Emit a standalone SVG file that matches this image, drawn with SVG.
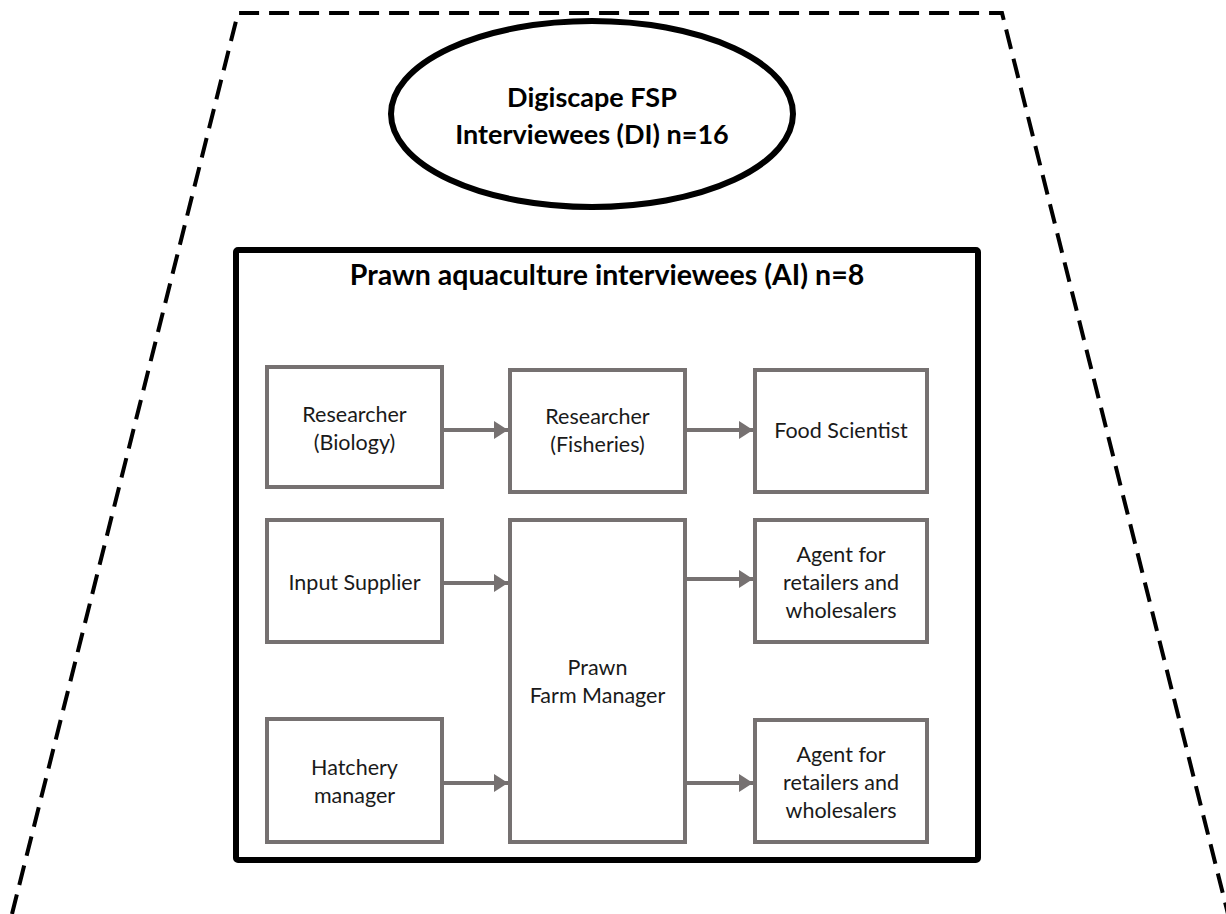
<svg xmlns="http://www.w3.org/2000/svg" width="1226" height="914" viewBox="0 0 1226 914">
<style>
  .dash { fill: none; stroke: #000; stroke-width: 4; stroke-dasharray: 20 10; }
  .box { fill: #fff; stroke: #767171; stroke-width: 4; }
  .lbl { font-family: Lato, "Liberation Sans", sans-serif; font-size: 21.5px; fill: #1a1a1a; text-anchor: middle; }
  .ttl { font-family: Lato, "Liberation Sans", sans-serif; font-weight: bold; fill: #000; text-anchor: middle; }
  .conn { stroke: #767171; stroke-width: 4; fill: none; }
</style>
<defs>
  <marker id="ah" markerUnits="userSpaceOnUse" markerWidth="15" markerHeight="18" refX="14" refY="9" orient="auto">
    <path d="M0,0 L14,9 L0,18 Z" fill="#767171"/>
  </marker>
</defs>
<rect width="1226" height="914" fill="#fff"/>
<g id="boundary">
  <path class="dash" d="M12,914 L238,13 L1002,13 L1228,914"/>
</g>
<g id="digiscape">
  <ellipse cx="592" cy="114" rx="201" ry="93" fill="#fff" stroke="#000" stroke-width="6"/>
  <text class="ttl" x="592" y="107" font-size="27">Digiscape FSP</text>
  <text class="ttl" x="592" y="144" font-size="27">Interviewees (DI) n=16</text>
</g>
<g id="aquaculture">
  <rect x="236" y="250" width="742" height="610" fill="#fff" stroke="#000" stroke-width="6" rx="2"/>
  <text class="ttl" x="607" y="285" font-size="28.5">Prawn aquaculture interviewees (AI) n=8</text>
</g>
<g id="researcher-biology">
  <rect class="box" x="267" y="367" width="175" height="120"/>
  <text class="lbl" x="354.5" y="422">Researcher</text>
  <text class="lbl" x="354.5" y="450">(Biology)</text>
</g>
<g id="researcher-fisheries">
  <rect class="box" x="510" y="370" width="175" height="122"/>
  <text class="lbl" x="597.5" y="424">Researcher</text>
  <text class="lbl" x="597.5" y="452">(Fisheries)</text>
</g>
<g id="food-scientist">
  <rect class="box" x="755" y="370" width="172" height="122"/>
  <text class="lbl" x="841" y="438">Food Scientist</text>
</g>
<g id="input-supplier">
  <rect class="box" x="267" y="520" width="175" height="122"/>
  <text class="lbl" x="354.5" y="590">Input Supplier</text>
</g>
<g id="hatchery-manager">
  <rect class="box" x="267" y="719" width="175" height="123"/>
  <text class="lbl" x="354.5" y="775">Hatchery</text>
  <text class="lbl" x="354.5" y="803">manager</text>
</g>
<g id="prawn-farm-manager">
  <rect class="box" x="510" y="520" width="175" height="322"/>
  <text class="lbl" x="597.5" y="675">Prawn</text>
  <text class="lbl" x="597.5" y="703">Farm Manager</text>
</g>
<g id="agent-1">
  <rect class="box" x="755" y="520" width="172" height="122"/>
  <text class="lbl" x="841" y="562">Agent for</text>
  <text class="lbl" x="841" y="590">retailers and</text>
  <text class="lbl" x="841" y="618">wholesalers</text>
</g>
<g id="agent-2">
  <rect class="box" x="755" y="720" width="172" height="122"/>
  <text class="lbl" x="841" y="762">Agent for</text>
  <text class="lbl" x="841" y="790">retailers and</text>
  <text class="lbl" x="841" y="818">wholesalers</text>
</g>
<g id="connectors">
  <line class="conn" x1="444" y1="430" x2="508" y2="430" marker-end="url(#ah)"/>
  <line class="conn" x1="687" y1="430" x2="753" y2="430" marker-end="url(#ah)"/>
  <line class="conn" x1="444" y1="583" x2="508" y2="583" marker-end="url(#ah)"/>
  <line class="conn" x1="444" y1="783" x2="508" y2="783" marker-end="url(#ah)"/>
  <line class="conn" x1="687" y1="579" x2="753" y2="579" marker-end="url(#ah)"/>
  <line class="conn" x1="687" y1="783" x2="753" y2="783" marker-end="url(#ah)"/>
</g>
</svg>
